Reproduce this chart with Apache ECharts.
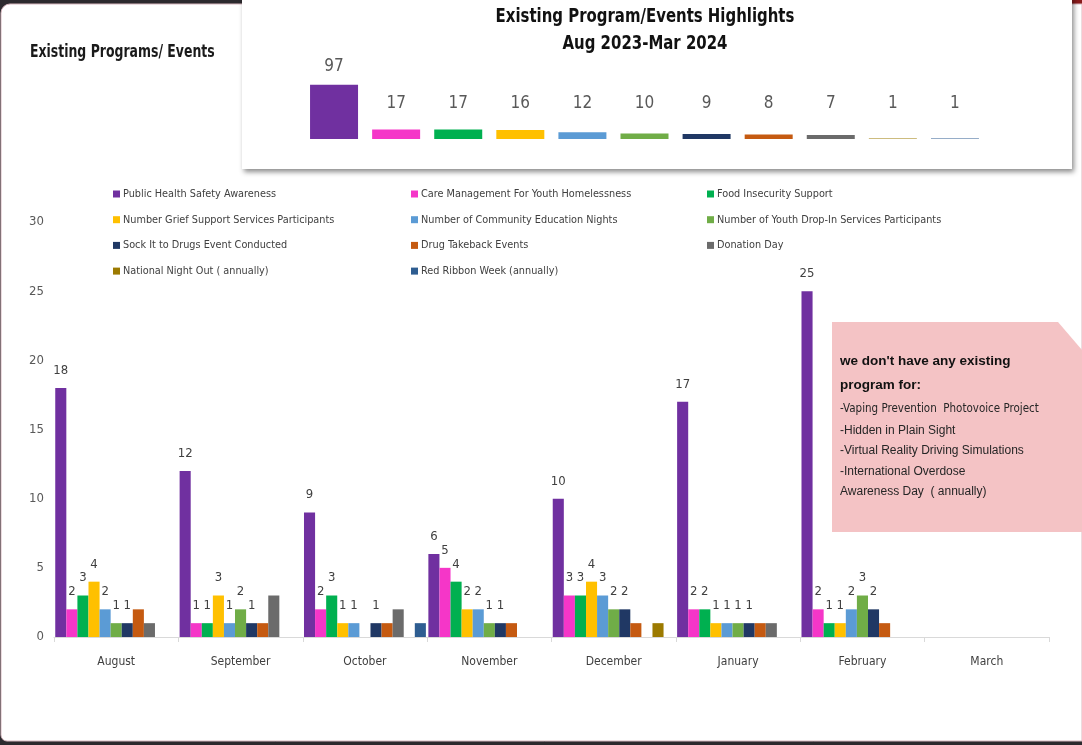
<!DOCTYPE html>
<html>
<head>
<meta charset="utf-8">
<script src="https://cdn.jsdelivr.net/npm/echarts@6/dist/echarts.min.js"></script>
<style>
  html, body { margin: 0; padding: 0; background: #ffffff; }
  #chart { width: 1082px; height: 745px; }
</style>
</head>
<body>
<div id="chart"></div>
<script>
// Month categories on the main axis
const months = ['August', 'September', 'October', 'November', 'December', 'January', 'February', 'March'];

// Program names (legend order)
const programNames = [
  'Public Health Safety Awareness',
  'Care Management For Youth Homelessness',
  'Food Insecurity Support',
  'Number Grief Support Services Participants',
  'Number of Community Education Nights',
  'Number of Youth Drop-In Services Participants',
  'Sock It to Drugs Event Conducted',
  'Drug Takeback Events',
  'Donation Day',
  'National Night Out ( annually)',
  'Red Ribbon Week (annually)'
];

// Monthly counts per program, Aug 2023 - Mar 2024
const publicHealth    = [18, 12, 9, 6, 10, 17, 25, 0];
const careManagement  = [2, 1, 2, 5, 3, 2, 2, 0];
const foodInsecurity  = [3, 1, 3, 4, 3, 2, 1, 0];
const griefSupport    = [4, 3, 1, 2, 4, 1, 1, 0];
const communityEd     = [2, 1, 1, 2, 3, 1, 2, 0];
const youthDropIn     = [1, 2, 0, 1, 2, 1, 3, 0];
const sockItToDrugs   = [1, 1, 1, 1, 2, 1, 2, 0];
const drugTakeback    = [2, 1, 1, 1, 1, 1, 1, 0];
const donationDay     = [1, 3, 2, 0, 0, 1, 0, 0];
const nightOut        = [0, 0, 0, 0, 1, 0, 0, 0];
const redRibbon       = [0, 0, 1, 0, 0, 0, 0, 0];

// Value axis ticks
const yTicks = { min: 0, max: 30, interval: 5 };

// Headings
const mainTitle = 'Existing Programs/ Events';
const highlightTitle = ['Existing Program/Events Highlights', 'Aug 2023-Mar 2024'];

// Note text listing programs that do not exist yet
const noteHeading = ["we don't have any existing", 'program for:'];
const noteLines = [
  '-Vaping Prevention  Photovoice Project',
  '-Hidden in Plain Sight',
  '-Virtual Reality Driving Simulations',
  '-International Overdose',
  'Awareness Day  ( annually)'
];

const seriesValues = [publicHealth, careManagement, foodInsecurity, griefSupport, communityEd,
  youthDropIn, sockItToDrugs, drugTakeback, donationDay, nightOut, redRibbon];

const colors = ['#7030a0', '#f536c8', '#00b050', '#ffc000', '#5b9bd5', '#70ad47',
  '#203864', '#c55a11', '#6b6b6b', '#9c7a00', '#2e5d91'];

// Series that carry value labels on the monthly chart
const labelledCount = 7;

// Totals over the whole period for the highlight strip
const totals = seriesValues.map(arr => arr.reduce((a, b) => a + b, 0));

const NARROW = '"DejaVu Sans Condensed", "Liberation Sans", sans-serif';
const REG = '"Liberation Sans", "DejaVu Sans", sans-serif';

const chart = echarts.init(document.getElementById('chart'));

const mainSeries = programNames.map((name, i) => ({
  name: name,
  type: 'bar',
  xAxisIndex: 0,
  yAxisIndex: 0,
  data: seriesValues[i],
  barGap: 0,
  barCategoryGap: '2%',
  itemStyle: { color: colors[i] },
  label: {
    show: i < labelledCount,
    position: 'top',
    distance: 11,
    color: '#404040',
    fontFamily: NARROW,
    fontSize: 13,
    formatter: p => (p.value > 0 ? String(p.value) : '')
  },
  emphasis: { disabled: true },
  z: 3
}));

const maxTotal = Math.max.apply(null, totals);
const totalSeries = {
  name: 'Totals',
  type: 'bar',
  xAxisIndex: 1,
  yAxisIndex: 1,
  barWidth: 48,
  data: totals.map((v, i) => ({
    value: v,
    itemStyle: { color: colors[i] },
    label: v === maxTotal
      ? { position: 'top', distance: 10 }
      : { position: 'insideBottom', distance: 0, offset: [0, -27] }
  })),
  label: {
    show: true,
    color: '#595959',
    fontFamily: NARROW,
    fontSize: 17,
    textBorderWidth: 0
  },
  emphasis: { disabled: true },
  z: 5
};

function legendFor(indices, left) {
  return {
    orient: 'vertical',
    left: left,
    top: 182,
    itemWidth: 7,
    itemHeight: 7,
    itemGap: 11.7,
    icon: 'rect',
    selectedMode: false,
    data: indices.map(i => programNames[i]),
    textStyle: { color: '#404040', fontFamily: NARROW, fontSize: 10.8, lineHeight: 14, padding: [0, 0, 0, -2] }
  };
}

const option = {
  animation: false,
  backgroundColor: '#ffffff',
  textStyle: { fontFamily: NARROW },
  legend: [
    legendFor([0, 3, 6, 9], 108),
    legendFor([1, 4, 7, 10], 406),
    legendFor([2, 5, 8], 702)
  ],
  grid: [
    { left: 54, right: 33, top: 222, bottom: 108 },
    { left: 303, top: 83, width: 683, height: 56 }
  ],
  xAxis: [
    {
      type: 'category',
      gridIndex: 0,
      data: months,
      axisLine: { lineStyle: { color: '#d9d9d9', width: 1 } },
      axisTick: { show: true, length: 5, lineStyle: { color: '#d9d9d9' } },
      axisLabel: { color: '#404040', fontFamily: NARROW, fontSize: 12, margin: 19 }
    },
    {
      type: 'category',
      gridIndex: 1,
      data: programNames,
      show: false
    }
  ],
  yAxis: [
    {
      type: 'value',
      gridIndex: 0,
      min: yTicks.min,
      max: yTicks.max,
      interval: yTicks.interval,
      axisLine: { show: false },
      axisTick: { show: false },
      splitLine: { show: false },
      axisLabel: { color: '#595959', fontFamily: NARROW, fontSize: 13, margin: 10 }
    },
    {
      type: 'value',
      gridIndex: 1,
      min: 0,
      max: 100,
      show: false,
      splitLine: { show: false }
    }
  ],
  graphic: [
    // frame
    { type: 'rect', z: -10, shape: { x: 0, y: 0, width: 1082, height: 745 }, style: { fill: '#2c2a2e' } },
    { type: 'rect', z: -10, shape: { x: 1030, y: 0, width: 52, height: 6 }, style: { fill: '#8a1c1c' } },
    { type: 'rect', z: -9, shape: { x: 1, y: 4, width: 1081, height: 737, r: [9, 0, 0, 6] }, style: { fill: '#ffffff', stroke: '#d8b8bf', lineWidth: 1 } },
    // highlight panel
    {
      type: 'rect', z: -5,
      shape: { x: 242, y: -6, width: 830, height: 175 },
      style: { fill: '#ffffff', shadowBlur: 5, shadowOffsetX: 2, shadowOffsetY: 3, shadowColor: 'rgba(0,0,0,0.45)' }
    },
    {
      type: 'text', z: 10, x: 645, y: 3, scaleX: 0.83,
      style: { x: 0, y: 0, text: highlightTitle.join('\n'), align: 'center', verticalAlign: 'top', fill: '#111111', font: 'bold 20px ' + NARROW, lineHeight: 27 }
    },
    // main title
    {
      type: 'text', z: 10, x: 30, y: 43, scaleX: 0.77,
      style: { x: 0, y: 0, text: mainTitle, verticalAlign: 'top', fill: '#1a1a1a', font: 'bold 18px ' + NARROW }
    },
    // note box
    {
      type: 'polygon', z: 1,
      shape: { points: [[832, 322], [1058, 322], [1082, 350], [1082, 532], [832, 532]] },
      style: { fill: '#f4c3c5' }
    },
    {
      type: 'text', z: 10, left: 840, top: 349,
      style: { text: noteHeading.join('\n'), fill: '#111111', font: 'bold 13.5px ' + REG, lineHeight: 24 }
    },
    {
      type: 'text', z: 10, left: 840, top: 403,
      style: { text: noteLines[0], fill: '#262626', font: '11.5px ' + NARROW }
    },
    {
      type: 'text', z: 10, left: 840, top: 420,
      style: { text: noteLines.slice(1).join('\n'), fill: '#262626', font: '12px ' + REG, lineHeight: 20.5 }
    }
  ],
  series: mainSeries.concat([totalSeries])
};

chart.setOption(option);
</script>
</body>
</html>
